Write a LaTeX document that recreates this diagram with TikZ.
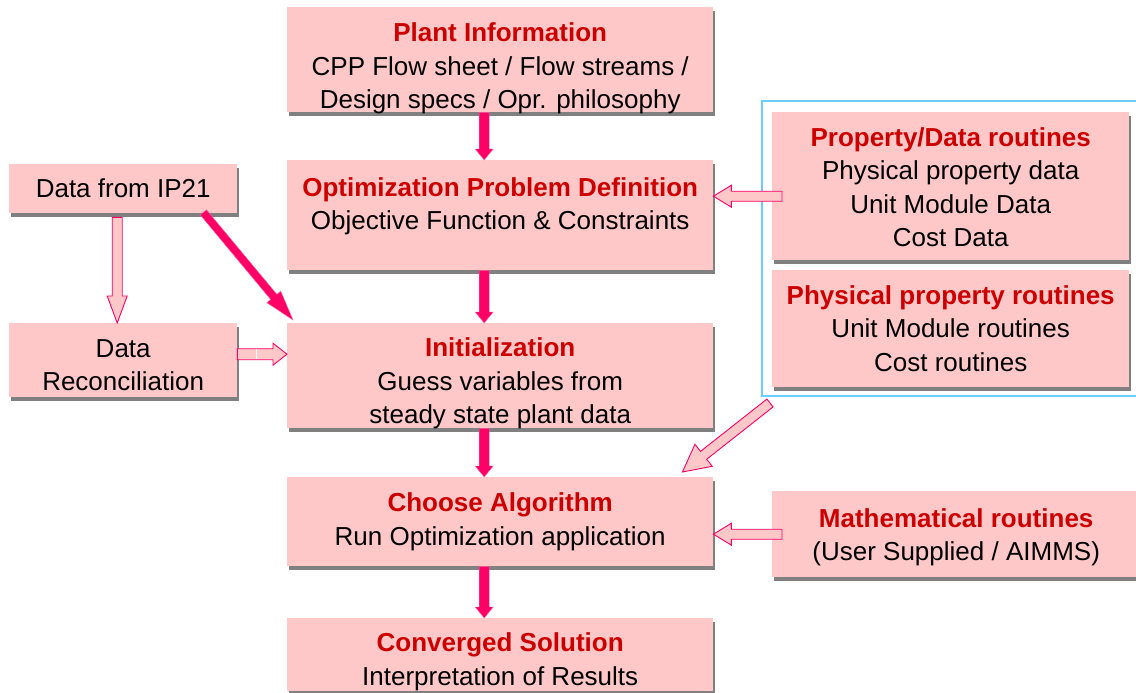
\documentclass[tikz,border=0pt]{standalone}
\usepackage{fontspec}
\setmainfont{Liberation Sans}
\usetikzlibrary{calc,shadows}

\definecolor{boxpink}{RGB}{255,200,200}
\definecolor{titlered}{RGB}{204,0,0}
\definecolor{flowpink}{RGB}{255,0,102}
\definecolor{frameblue}{RGB}{110,205,255}
\definecolor{shadowgray}{RGB}{128,128,128}

\newcommand\bodyfont{\fontsize{26}{33.5}\selectfont}
\newcommand\ttl[1]{{\fontsize{26}{33.5}\selectfont\bfseries\color{titlered}#1}}

% block arrow from #2 to #3: shaft half width #4, head half width #5, head length #6
\newcommand\blockarrow[6][hollowarrow]{%
  \path (#2) coordinate (ba-s) (#3) coordinate (ba-t);
  \path ($(ba-t)!#6pt!(ba-s)$) coordinate (ba-h);
  \draw[#1] ($(ba-s)!#4pt!90:(ba-t)$) -- ($(ba-h)!#4pt!-90:(ba-s)$)
    -- ($(ba-h)!#5pt!-90:(ba-s)$) -- (ba-t) -- ($(ba-h)!#5pt!90:(ba-s)$)
    -- ($(ba-h)!#4pt!90:(ba-s)$) -- ($(ba-s)!#4pt!-90:(ba-t)$) -- cycle;
}

% pink box with shadow (#1 name, #2 top-left, #3 width, #4 height)
% and its centred text lowered by #5 (#6 text)
\newcommand\pinkbox[6]{%
  \node[box, minimum width=#3pt, minimum height=#4pt] (#1) at (#2) {};
  \node[boxtext] (#1-t) at ($(#1.center)+(0,#5)$) {#6};
}

\tikzset{
  box/.style={fill=boxpink, anchor=north west, inner sep=0pt,
    drop shadow={shadow xshift=2pt, shadow yshift=-4pt, fill=shadowgray, opacity=1}},
  boxtext/.style={inner sep=0pt, align=center, font=\bodyfont},
  solidarrow/.style={fill=flowpink, draw=flowpink!60!white, line width=0.4pt, line join=miter},
  hollowarrow/.style={fill=boxpink, draw=flowpink, line width=0.9pt, line join=miter},
  groupframe/.style={draw=frameblue, line width=1.2pt},
}

\begin{document}
\begin{tikzpicture}[x=1pt,y=-1pt]
\useasboundingbox (0,0) rectangle (1136,693);
\clip (0,0) rectangle (1136,693);
\fill[white] (0,0) rectangle (1136,693);

% frame around the routine libraries
\draw[groupframe] (762,101) rectangle (1145,396);

% main flow
\pinkbox{plant}{287,7}{426}{105}{9}
  {\ttl{Plant Information}\\CPP Flow sheet / Flow streams /\\Design specs / Opr. philosophy}
\pinkbox{opt}{287,160}{426}{110}{-9}
  {\ttl{Optimization Problem Definition}\\Objective Function \& Constraints}
\pinkbox{init}{287,323}{426}{105}{8}
  {\ttl{Initialization}\\Guess variables from\\steady state plant data}
\pinkbox{choose}{287,477}{426}{89}{0}
  {\ttl{Choose Algorithm}\\Run Optimization application}
\pinkbox{conv}{287,618}{426}{73}{7}
  {\ttl{Converged Solution}\\Interpretation of Results}

% data inputs
\pinkbox{ip}{9,164}{228}{49}{0}{Data from IP21}
\pinkbox{recon}{9,323}{228}{74}{5}{Data\\Reconciliation}

% routine libraries
\pinkbox{prop}{772,112}{357}{148}{1}
  {\ttl{Property/Data routines}\\Physical property data\\Unit Module Data\\Cost Data}
\pinkbox{phys}{772,270}{357}{117}{0}
  {\ttl{Physical property routines}\\Unit Module routines\\Cost routines}
\pinkbox{math}{772,491}{368}{86}{3}
  {\ttl{Mathematical routines}\\(User Supplied / AIMMS)}

% connector end points
\coordinate (c1) at ($(plant.south)+(-16,0)$);
\coordinate (c2) at ($(opt.north)+(-16,0)$);
\coordinate (c3) at ($(opt.south)+(-16,0)$);
\coordinate (c4) at ($(init.north)+(-16,0)$);
\coordinate (c5) at ($(init.south)+(-16,0)$);
\coordinate (c6) at ($(choose.north)+(-16,0)$);
\coordinate (c7) at ($(choose.south)+(-16,0)$);
\coordinate (c8) at ($(conv.north)+(-16,0)$);
\coordinate (ipout) at ($(ip.south east)+(-34,-1)$);
\coordinate (initin) at ($(init.north west)+(6,-3)$);
\coordinate (ipdown) at ($(ip.south)+(-6,4)$);
\coordinate (recontop) at ($(recon.north)+(-6,0)$);
\coordinate (reconout) at ($(recon.east)+(0,-6)$);
\coordinate (initleft) at (init.west |- reconout);
\coordinate (propout) at ($(prop.west)+(10,10)$);
\coordinate (optin) at (opt.east |- propout);
\coordinate (frameout) at (770,403);
\coordinate (choosein) at ($(choose.north east)+(-31,-5)$);
\coordinate (mathout) at ($(math.west)+(10,0)$);
\coordinate (choosemid) at (choose.east |- mathout);

% solid flow arrows
\blockarrow[solidarrow]{c1}{c2}{5}{9}{11}
\blockarrow[solidarrow]{c3}{c4}{5}{9}{11}
\blockarrow[solidarrow]{c5}{c6}{5}{9}{11}
\blockarrow[solidarrow]{c7}{c8}{5}{9}{11}
\blockarrow[solidarrow]{ipout}{initin}{4}{9}{30}

% hollow arrows
\blockarrow{ipdown}{recontop}{5}{10}{27}
\blockarrow{reconout}{initleft}{5.5}{11}{14}
\draw[white, line width=0.8pt] ($(reconout)+(19,-5)$) -- ($(reconout)+(19,5)$);
\blockarrow{propout}{optin}{5}{11}{18}
\blockarrow{frameout}{choosein}{5}{14}{27}
\blockarrow{mathout}{choosemid}{5}{11}{18}
\end{tikzpicture}
\end{document}
